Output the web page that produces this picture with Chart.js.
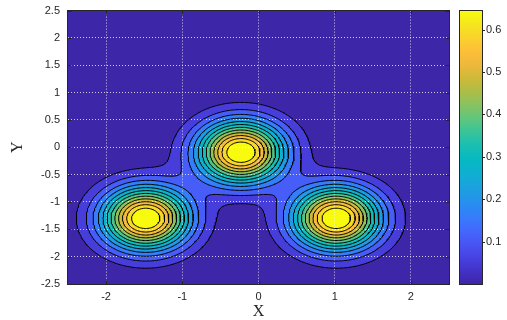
<!DOCTYPE html>
<html><head><meta charset="utf-8">
<script src="https://cdn.jsdelivr.net/npm/chart.js@4/dist/chart.umd.min.js"></script>
<style>html,body{margin:0;padding:0;background:#fff;overflow:hidden}#wrap{width:507px;height:320px;position:relative}</style>
</head><body><div id="wrap"><canvas id="c" width="507" height="320"></canvas></div>
<script>
// ---- values ----
const peakX = [-1.48, -0.23, 1.02];
const peakY = [-1.30, -0.09, -1.30];
const peakHeight = [0.668, 0.668, 0.668];
const peakWidth = [0.40, 0.40, 0.40];
const contourLevels = [0.05, 0.10, 0.15, 0.20, 0.25, 0.30, 0.35, 0.40, 0.45, 0.50, 0.55, 0.60];
const xRange = [-2.5, 2.5];
const yRange = [-2.5, 2.5];
const xTicks = [-2, -1, 0, 1, 2];
const yTicks = [-2.5, -2, -1.5, -1, -0.5, 0, 0.5, 1, 1.5, 2, 2.5];
const colorbarRange = [0, 0.645];
const colorbarTicks = [0.1, 0.2, 0.3, 0.4, 0.5, 0.6];
const xTitle = 'X';
const yTitle = 'Y';

// ---- colour map (parula-like) ----
const parulaStops = [
  [0.00, 62, 38, 168], [0.05, 67, 50, 200], [0.10, 71, 67, 228], [0.15, 72, 86, 244],
  [0.20, 66, 106, 252], [0.25, 52, 126, 250], [0.30, 38, 144, 236], [0.35, 28, 160, 224],
  [0.40, 16, 174, 210], [0.45, 6, 184, 196], [0.50, 22, 190, 180], [0.55, 52, 195, 158],
  [0.60, 92, 198, 128], [0.65, 132, 195, 100], [0.70, 170, 190, 72], [0.75, 205, 185, 56],
  [0.80, 236, 184, 60], [0.85, 253, 190, 58], [0.90, 250, 210, 45], [0.95, 245, 230, 30],
  [1.00, 249, 251, 14]
];
function parula(t) {
  t = Math.max(0, Math.min(1, t));
  for (let k = 1; k < parulaStops.length; k++) {
    const a = parulaStops[k - 1], b = parulaStops[k];
    if (t <= b[0]) {
      const f = (t - a[0]) / (b[0] - a[0]);
      return [a[1] + f * (b[1] - a[1]), a[2] + f * (b[2] - a[2]), a[3] + f * (b[3] - a[3])].map(Math.round);
    }
  }
  const l = parulaStops[parulaStops.length - 1];
  return [l[1], l[2], l[3]];
}
const bandColors = [];
for (let k = 0; k <= contourLevels.length; k++) bandColors.push(parula(k / contourLevels.length));

// ---- surface described by the peaks ----
function field(x, y) {
  let z = 0;
  for (let p = 0; p < peakX.length; p++) {
    const dx = x - peakX[p], dy = y - peakY[p];
    z += peakHeight[p] * Math.exp(-(dx * dx + dy * dy) / (2 * peakWidth[p] * peakWidth[p]));
  }
  return z;
}
function bandOf(z) { let b = 0; for (const L of contourLevels) if (z >= L) b++; return b; }

// ---- marching squares -> contour polylines ----
const N = 301;
const gdx = (xRange[1] - xRange[0]) / (N - 1), gdy = (yRange[1] - yRange[0]) / (N - 1);
const Z = new Float64Array(N * N);
for (let j = 0; j < N; j++) for (let i = 0; i < N; i++) Z[j * N + i] = field(xRange[0] + i * gdx, yRange[0] + j * gdy);
function contourLines(level) {
  const pts = new Map(), adj = new Map();
  function ep(type, i, j) {
    const k = type + i + '_' + j;
    if (!pts.has(k)) {
      let ia = i, ja = j, ib = type === 'h' ? i + 1 : i, jb = type === 'h' ? j : j + 1;
      const za = Z[ja * N + ia], zb = Z[jb * N + ib];
      const t = (level - za) / (zb - za);
      pts.set(k, { x: xRange[0] + (ia + t * (ib - ia)) * gdx, y: yRange[0] + (ja + t * (jb - ja)) * gdy });
    }
    return k;
  }
  function link(a, b) {
    if (!adj.has(a)) adj.set(a, []); if (!adj.has(b)) adj.set(b, []);
    adj.get(a).push(b); adj.get(b).push(a);
  }
  for (let j = 0; j < N - 1; j++) for (let i = 0; i < N - 1; i++) {
    const z00 = Z[j * N + i], z10 = Z[j * N + i + 1], z11 = Z[(j + 1) * N + i + 1], z01 = Z[(j + 1) * N + i];
    const c = (z00 >= level ? 1 : 0) | (z10 >= level ? 2 : 0) | (z11 >= level ? 4 : 0) | (z01 >= level ? 8 : 0);
    if (c === 0 || c === 15) continue;
    const b0 = c & 1, b1 = (c >> 1) & 1, b2 = (c >> 2) & 1, b3 = (c >> 3) & 1;
    const E = [];
    const bottom = () => ep('h', i, j), right = () => ep('v', i + 1, j), top = () => ep('h', i, j + 1), left = () => ep('v', i, j);
    if (c === 5 || c === 10) {
      const ctr = (z00 + z10 + z11 + z01) / 4 >= level;
      if ((c === 5) === ctr) { link(bottom(), right()); link(top(), left()); }
      else { link(left(), bottom()); link(right(), top()); }
      continue;
    }
    if (b0 !== b1) E.push(bottom());
    if (b1 !== b2) E.push(right());
    if (b2 !== b3) E.push(top());
    if (b3 !== b0) E.push(left());
    if (E.length === 2) link(E[0], E[1]);
  }
  const used = new Set(), out = [];
  const keys = [...adj.keys()].sort((a, b) => adj.get(a).length - adj.get(b).length);
  for (const start of keys) {
    if (used.has(start)) continue;
    const line = [pts.get(start)]; used.add(start);
    let prev = null, cur = start;
    while (true) {
      const nx = adj.get(cur).find(n => n !== prev && !used.has(n));
      if (!nx) { if (line.length > 2 && adj.get(cur).includes(start)) line.push(pts.get(start)); break; }
      line.push(pts.get(nx)); used.add(nx); prev = cur; cur = nx;
    }
    out.push(line);
  }
  return out;
}
const datasets = contourLevels.map(L => {
  const data = [];
  for (const line of contourLines(L)) { for (const p of line) data.push(p); data.push({ x: NaN, y: NaN }); }
  return { label: 'z = ' + L, data, showLine: true, spanGaps: false, borderColor: '#000', borderWidth: 1,
           pointRadius: 0, pointHoverRadius: 0, tension: 0, borderJoinStyle: 'round' };
});

// ---- plugins ----
const fillPlugin = {
  id: 'contourFill',
  beforeDraw(chart) {
    const a = chart.chartArea, xs = chart.scales.x, ys = chart.scales.y, ctx = chart.ctx;
    const L = Math.round(a.left), T = Math.round(a.top), W = Math.round(a.right) - L, H = Math.round(a.bottom) - T;
    const off = document.createElement('canvas'); off.width = W; off.height = H;
    const octx = off.getContext('2d'); const img = octx.createImageData(W, H);
    for (let py = 0; py < H; py++) {
      const y = ys.getValueForPixel(T + py + 0.5);
      for (let px = 0; px < W; px++) {
        const x = xs.getValueForPixel(L + px + 0.5);
        const col = bandColors[bandOf(field(x, y))];
        const o = (py * W + px) * 4;
        img.data[o] = col[0]; img.data[o + 1] = col[1]; img.data[o + 2] = col[2]; img.data[o + 3] = 255;
      }
    }
    octx.putImageData(img, 0, 0);
    ctx.save(); ctx.drawImage(off, L, T); ctx.restore();
  },
  afterDatasetsDraw(chart) {
    const a = chart.chartArea, ctx = chart.ctx, xs = chart.scales.x, ys = chart.scales.y;
    ctx.save();
    ctx.strokeStyle = '#262626'; ctx.lineWidth = 1;
    const L = Math.round(a.left) - 0.5, R = Math.round(a.right) + 0.5, T = Math.round(a.top) - 0.5, B = Math.round(a.bottom) + 0.5;
    ctx.beginPath();
    for (const v of xTicks) {
      const p = Math.round(xs.getPixelForValue(v)) + 0.5;
      ctx.moveTo(p, B); ctx.lineTo(p, B - 4); ctx.moveTo(p, T); ctx.lineTo(p, T + 4);
    }
    for (const v of yTicks) {
      const p = Math.round(ys.getPixelForValue(v)) + 0.5;
      ctx.moveTo(L, p); ctx.lineTo(L + 4, p); ctx.moveTo(R, p); ctx.lineTo(R - 4, p);
    }
    ctx.stroke();
    ctx.strokeRect(L, T, R - L, B - T);
    ctx.restore();
  },
  afterDraw(chart) {
    const cb = chart.scales.cb, ctx = chart.ctx;
    const x0 = Math.round(cb.left) + 11, x1 = Math.round(cb.left) + 33;
    const T = Math.round(cb.top), B = Math.round(cb.bottom);
    ctx.save();
    for (let py = T; py < B; py++) {
      const v = cb.getValueForPixel(py + 0.5);
      const c = parula((v - colorbarRange[0]) / (colorbarRange[1] - colorbarRange[0]));
      ctx.fillStyle = 'rgb(' + c.join(',') + ')';
      ctx.fillRect(x0, py, x1 - x0, 1);
    }
    ctx.strokeStyle = '#262626'; ctx.lineWidth = 1;
    ctx.strokeRect(x0 - 0.5, T - 0.5, x1 - x0 + 1, B - T + 1);
    ctx.beginPath();
    for (const v of colorbarTicks) {
      const p = Math.round(cb.getPixelForValue(v)) + 0.5;
      ctx.moveTo(x1, p); ctx.lineTo(x1 + 3, p);
    }
    ctx.stroke();
    ctx.restore();
  }
};

const tickFont = { family: '"Liberation Sans", Arial, sans-serif', size: 11 };
const titleFont = { family: '"Liberation Serif", "Times New Roman", serif', size: 16, lineHeight: 1 };
const gridColor = 'rgba(255,255,255,0.75)';
const clear = 'rgba(0,0,0,0)';

new Chart(document.getElementById('c'), {
  type: 'scatter',
  data: { datasets },
  plugins: [fillPlugin],
  options: {
    responsive: false, animation: false, devicePixelRatio: 1,
    layout: { padding: { top: 8, left: 0, right: 0, bottom: 0 } },
    plugins: { legend: { display: false }, tooltip: { enabled: false } },
    events: [],
    scales: {
      x: {
        type: 'linear', position: 'bottom', min: xRange[0], max: xRange[1],
        afterBuildTicks: s => { s.ticks = xTicks.map(v => ({ value: v })); },
        afterFit: s => { s.height = 36; },
        ticks: { font: tickFont, color: '#262626', padding: 0, maxRotation: 0, callback: v => String(v) },
        grid: { color: gridColor, lineWidth: 1, drawTicks: true, tickLength: 6, tickColor: clear },
        border: { display: false, dash: [1, 2] },
        title: { display: true, text: xTitle, font: titleFont, color: '#262626', padding: { top: 0, bottom: 0 } }
      },
      y: {
        type: 'linear', position: 'left', min: yRange[0], max: yRange[1],
        afterBuildTicks: s => { s.ticks = yTicks.map(v => ({ value: v })); },
        afterFit: s => { s.width = 68; },
        ticks: { font: tickFont, color: '#262626', padding: 0, callback: v => String(v) },
        grid: { color: c => (c.tick && Math.abs(c.tick.value) >= 2.5 ? clear : gridColor), lineWidth: 1,
                drawTicks: true, tickLength: 8, tickColor: clear },
        border: { display: false, dash: [1, 2] },
        title: { display: true, text: yTitle, font: titleFont, color: '#262626', padding: { top: 10, bottom: 0 } }
      },
      cb: {
        type: 'linear', axis: 'y', position: 'right', min: colorbarRange[0], max: colorbarRange[1],
        afterBuildTicks: s => { s.ticks = colorbarTicks.map(v => ({ value: v })); },
        afterFit: s => { s.width = 58; },
        ticks: { font: tickFont, color: '#262626', padding: 4, callback: v => String(v) },
        grid: { display: true, drawOnChartArea: false, drawTicks: true, tickLength: 33, tickColor: clear, color: clear },
        border: { display: false }
      }
    }
  }
});
</script>
</body></html>
